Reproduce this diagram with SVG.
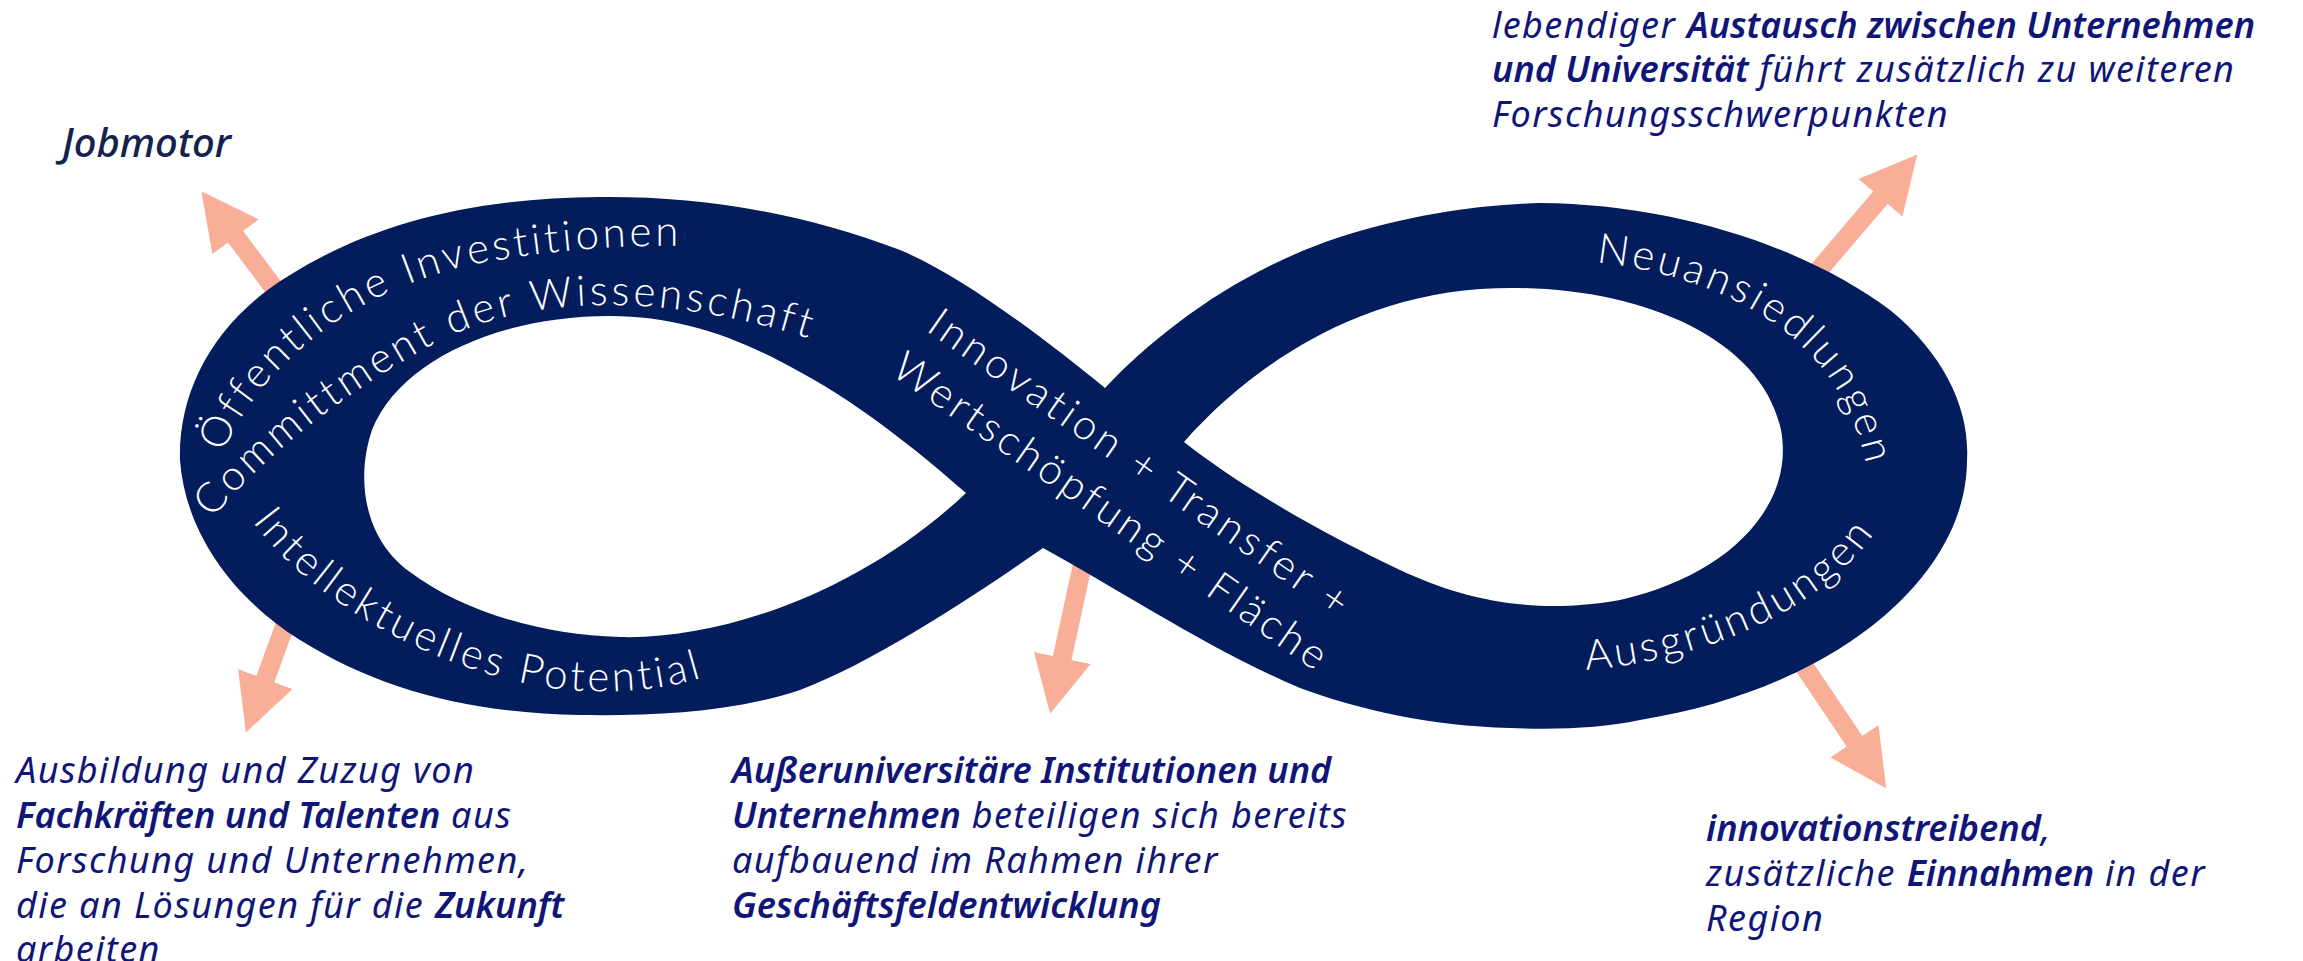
<svg xmlns="http://www.w3.org/2000/svg" width="2303" height="961" viewBox="0 0 2303 961">
  <style>
    .band { fill: #031c5c; fill-rule: evenodd; }
    .w { fill: #ffffff; font-family: Lato, "Open Sans", sans-serif; font-weight: 300; font-size: 42px; letter-spacing: 3.5px; }
    .t { fill: #0f1677; font-family: "Noto Sans", "Open Sans", sans-serif; font-style: italic; font-size: 36px; letter-spacing: 1.4px; }
    .b { font-weight: 600; letter-spacing: 0; }
    .job { fill: #14234d; font-weight: 500; font-size: 40px; letter-spacing: 0; }
    .arrow { stroke: #f9ae97; stroke-width: 19; fill: none; marker-end: url(#head); }
  </style>
  <defs>
    <marker id="head" viewBox="0 0 57 58" refX="1" refY="29" markerWidth="57" markerHeight="58" markerUnits="userSpaceOnUse" orient="auto">
      <path d="M0,0 L57,29 L0,58 Z" fill="#f9ae97"/>
    </marker>
    <path id="p-oeff" d="M222 455 C255 375 340 295 470 265 C560 248 650 242 730 248"/>
    <path id="p-comm" d="M210 522 C250 470 330 400 437 342 C520 300 650 285 830 345"/>
    <path id="p-intel" d="M250 518 C300 590 420 668 550 688 C620 697 680 688 730 668"/>
    <path id="p-neu" d="M1590 262 C1700 272 1800 318 1843 400 C1858 430 1866 455 1872 495"/>
    <path id="p-aus" d="M1582 670 C1680 664 1790 625 1850 562 C1872 540 1888 515 1900 485"/>
  </defs>

  <rect width="2303" height="961" fill="#ffffff"/>

  <!-- arrows leaving the loop (drawn underneath the band) -->
  <g id="connectors">
    <line class="arrow" x1="319" y1="348" x2="235" y2="236"/>
    <line class="arrow" x1="296" y1="595" x2="265" y2="680"/>
    <line class="arrow" x1="1096" y1="502" x2="1062" y2="659"/>
    <line class="arrow" x1="1777" y1="319" x2="1881" y2="197"/>
    <line class="arrow" x1="1777" y1="626" x2="1855" y2="742"/>
  </g>

  <!-- infinity band with two holes -->
  <g id="loop">
    <path class="band" d="M1105 388 C1160 330 1240 270 1340 237 C1410 215 1475 205 1540 203
      C1680 204 1810 250 1890 310 C1945 355 1970 410 1967 460 C1967 580 1830 690 1640 720
      C1600 728 1560 730 1510 728 C1430 726 1360 710 1300 688
      C1210 650 1120 590 1043 548 C990 585 880 660 800 690 C730 713 650 716 580 715
      C470 713 380 690 300 640 C230 596 185 530 180 460 C178 390 215 320 290 275
      C370 225 470 198 600 197 C700 196 800 212 900 250 C960 275 1040 335 1105 388 Z
      M966 493 C930 462 870 410 800 372 C740 338 680 316 610 316 C500 316 400 360 372 430
      C355 480 365 540 410 572 C460 610 540 635 620 637 C720 640 860 593 966 493 Z
      M1184 442 C1230 390 1330 300 1480 289 C1620 280 1760 330 1781 430
      C1795 505 1730 575 1620 600 C1530 616 1460 598 1400 570 C1330 537 1245 490 1184 442 Z"/>
  </g>

  <g id="label-oeffentlich">
    <text class="w"><textPath href="#p-oeff" startOffset="2">Öffentliche Investitionen</textPath></text>
  </g>
  <g id="label-commitment">
    <text class="w"><textPath href="#p-comm" startOffset="4">Committment der Wissenschaft</textPath></text>
  </g>
  <g id="label-intellektuell">
    <text class="w" style="letter-spacing:3.5px"><textPath href="#p-intel" startOffset="4">Intellektuelles Potential</textPath></text>
  </g>
  <g id="label-innovation">
    <text class="w" transform="translate(925 330) rotate(35)">
      <tspan x="0" y="0" style="letter-spacing:3.9px">Innovation + Transfer +</tspan>
      <tspan x="-4" y="56">Wertschöpfung + Fläche</tspan>
    </text>
  </g>
  <g id="label-neuansiedlungen">
    <text class="w"><textPath href="#p-neu" startOffset="6">Neuansiedlungen</textPath></text>
  </g>
  <g id="label-ausgruendungen">
    <text class="w"><textPath href="#p-aus" startOffset="4">Ausgründungen</textPath></text>
  </g>

  <g id="note-jobmotor">
    <text class="t job" x="62" y="157">Jobmotor</text>
  </g>

  <g id="note-austausch">
    <text class="t" x="1492" y="38">lebendiger <tspan class="b">Austausch zwischen Unternehmen</tspan></text>
    <text class="t" x="1492" y="82"><tspan class="b">und Universität</tspan> führt zusätzlich zu weiteren</text>
    <text class="t" x="1492" y="127">Forschungsschwerpunkten</text>
  </g>

  <g id="note-fachkraefte">
    <text class="t" x="16" y="783">Ausbildung und Zuzug von</text>
    <text class="t" x="16" y="828"><tspan class="b">Fachkräften und Talenten</tspan> aus</text>
    <text class="t" x="16" y="873">Forschung und Unternehmen,</text>
    <text class="t" x="16" y="918">die an Lösungen für die <tspan class="b">Zukunft</tspan></text>
    <text class="t" x="16" y="962">arbeiten</text>
  </g>

  <g id="note-institutionen">
    <text class="t b" x="732" y="783">Außeruniversitäre Institutionen und</text>
    <text class="t" x="732" y="828"><tspan class="b">Unternehmen</tspan> beteiligen sich bereits</text>
    <text class="t" x="732" y="873">aufbauend im Rahmen ihrer</text>
    <text class="t b" x="732" y="918">Geschäftsfeldentwicklung</text>
  </g>

  <g id="note-einnahmen">
    <text class="t" x="1706" y="841"><tspan class="b">innovationstreibend</tspan>,</text>
    <text class="t" x="1706" y="886">zusätzliche <tspan class="b">Einnahmen</tspan> in der</text>
    <text class="t" x="1706" y="931">Region</text>
  </g>
</svg>
